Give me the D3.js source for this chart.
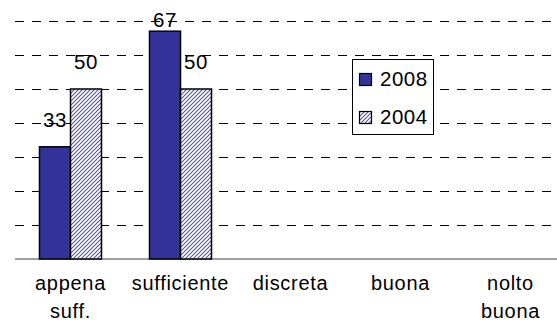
<!DOCTYPE html>
<html>
<head>
<meta charset="utf-8">
<script src="https://cdn.jsdelivr.net/npm/d3@7"></script>
<style>
  html, body { margin: 0; padding: 0; background: #fff; }
  svg { display: block; font-family: "Liberation Sans", Arial, sans-serif; }
</style>
</head>
<body>
<svg id="chart" width="557" height="322"></svg>
<script>
// Giudizio: confronto 2008 / 2004 (percentuali)
const categories = ["appena\nsuff.", "sufficiente", "discreta", "buona", "nolto\nbuona"];
const series = ["2008", "2004"];
const values2008 = [33, 67, null, null, null];
const values2004 = [50, 50, null, null, null];
const yTicks = [10, 20, 30, 40, 50, 60, 70];

const svg = d3.select("#chart");
const W = 557, H = 322;

const x = d3.scaleBand().domain(categories).range([15.5, 565.5]).paddingInner(0).paddingOuter(0);
const y = d3.scaleLinear().domain([0, 70]).range([259, 21]);
const barW = 31;
const xs = d3.scaleBand().domain(series).range([0, barW * 2]);

const defs = svg.append("defs");
const pat = defs.append("pattern")
  .attr("id", "hatch")
  .attr("patternUnits", "userSpaceOnUse")
  .attr("width", 4).attr("height", 4);
pat.append("rect").attr("width", 4).attr("height", 4).attr("fill", "#fff");
pat.append("path")
  .attr("d", "M-1,1 l2,-2 M0,4 l4,-4 M3,5 l2,-2")
  .attr("stroke", "#5555b0").attr("stroke-width", 1.1);

const fills = { "2008": "#333399", "2004": "url(#hatch)" };

// dashed gridlines
svg.append("g").selectAll("line").data(yTicks).join("line")
  .attr("x1", 15).attr("x2", W)
  .attr("y1", d => Math.round(y(d)) + 0.5).attr("y2", d => Math.round(y(d)) + 0.5)
  .attr("stroke", "#000").attr("stroke-width", 1)
  .attr("stroke-dasharray", "9,8");

// x axis baseline
svg.append("line")
  .attr("x1", 15).attr("x2", W).attr("y1", 259).attr("y2", 259)
  .attr("stroke", "#808080").attr("stroke-width", 1.5);

const rows = [];
categories.forEach((c, i) => {
  rows.push({ cat: c, s: "2008", v: values2008[i] });
  rows.push({ cat: c, s: "2004", v: values2004[i] });
});
const bars = rows.filter(d => d.v != null);
const offset = (x.bandwidth() - barW * 2) / 2;

svg.append("g").selectAll("rect").data(bars).join("rect")
  .attr("x", d => x(d.cat) + offset + xs(d.s))
  .attr("y", d => y(d.v))
  .attr("width", barW)
  .attr("height", d => y(0) - y(d.v))
  .attr("fill", d => fills[d.s])
  .attr("stroke", "#000").attr("stroke-width", 1.5);

// value labels
svg.append("g").selectAll("text").data(bars).join("text")
  .attr("x", d => x(d.cat) + offset + xs(d.s) + barW / 2)
  .attr("y", d => Math.max(y(d.v) - 20, 27))
  .attr("text-anchor", "middle")
  .attr("font-size", 20.5).attr("letter-spacing", 0.5)
  .attr("fill", "#000")
  .text(d => d.v);

// category labels
const xl = svg.append("g").selectAll("text").data(categories).join("text")
  .attr("x", d => x(d) + x.bandwidth() / 2)
  .attr("y", 290)
  .attr("text-anchor", "middle")
  .attr("font-size", 20).attr("letter-spacing", 0.7)
  .attr("fill", "#000");
xl.selectAll("tspan").data(d => d.split("\n")).join("tspan")
  .attr("x", function () { return d3.select(this.parentNode).attr("x"); })
  .attr("dy", (d, i) => i === 0 ? 0 : 28)
  .text(d => d);

// legend
const lg = svg.append("g");
lg.append("rect").attr("x", 352.5).attr("y", 59.5).attr("width", 81).attr("height", 75)
  .attr("fill", "#fff").attr("stroke", "#000").attr("stroke-width", 1);
const ly = d3.scalePoint().domain(series).range([86, 124]);
series.forEach(s => {
  lg.append("rect").attr("x", 359.5).attr("y", ly(s) - 12.5).attr("width", 12).attr("height", 12)
    .attr("fill", fills[s]).attr("stroke", "#000").attr("stroke-width", 1.2);
  lg.append("text").attr("x", 380).attr("y", ly(s))
    .attr("font-size", 20.5).attr("letter-spacing", 0.5).attr("fill", "#000").text(s);
});
</script>
</body>
</html>
